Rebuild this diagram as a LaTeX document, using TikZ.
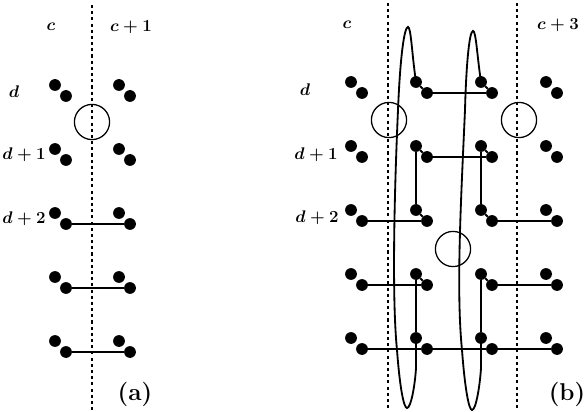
\documentclass[tikz,border=0pt]{standalone}
\usetikzlibrary{positioning}

\begin{document}
\begin{tikzpicture}[
x=0.25mm,
y=-0.25mm,
dot/.style={
circle,
fill=black,
inner sep=0pt,
minimum size=2.95mm
},
hole/.style={
circle,
draw,
line width=0.9pt,
minimum size=8.8mm
},
cut/.style={
line width=1.2pt,
dash pattern=on 2.2pt off 2.2pt
},
wire/.style={
line width=1.3pt
},
lbl/.style={
font=\boldmath\large
},
tag/.style={
font=\LARGE\bfseries
}
]
\useasboundingbox (0,0) rectangle (584,412);

% panel (a)
\draw[cut] (92,5) -- (92,410);
\foreach \r/\y in {1/85,2/149,3/213,4/277,5/341} {
\foreach \c/\x in {1/55,2/119} {
\node[dot] (aU\c\r) at (\x,\y) {};
\node[dot] (aL\c\r) at (\x+11,\y+11) {};
}
}
\node[hole] (ha) at (92,122) {};

\draw[wire] (aL13) -- (aL23);
\draw[wire] (aL14) -- (aL24);
\draw[wire] (aL15) -- (aL25);

\node[lbl] (ca) at (51,27) {$c$};
\node[lbl] (ca1) at (131,27) {$c+1$};
\node[lbl] (da) at (14,92) {$d$};
\node[lbl] (da1) at (24,155) {$d+1$};
\node[lbl] (da2) at (24,219) {$d+2$};
\node[tag] (taga) at (135,394) {(a)};

% panel (b)
\draw[cut] (388,3) -- (388,410);
\draw[cut] (517,3) -- (517,410);
\foreach \r/\y in {1/82,2/146,3/210,4/274,5/338} {
\foreach \c/\x in {1/351,2/416,3/481,4/546} {
\node[dot] (bU\c\r) at (\x,\y) {};
\node[dot] (bL\c\r) at (\x+11,\y+11) {};
}
}
\node[hole] (hb1) at (389,120) {};
\node[hole] (hb2) at (519,120) {};
\node[hole] (hb3) at (453,249) {};

% row d
\draw[wire] (bU21) -- (bL21) -- (bL31) -- (bU31);
% row d+1
\draw[wire] (bU22) -- (bL22) -- (bL32) -- (bU32);
\draw[wire] (bU22) -- (bU23);
\draw[wire] (bU32) -- (bU33);
% row d+2
\draw[wire] (bL13) -- (bL23) -- (bU23);
\draw[wire] (bU33) -- (bL33) -- (bL43);
% row 4
\draw[wire] (bL14) -- (bL24) -- (bU24);
\draw[wire] (bU34) -- (bL34) -- (bL44);
\draw[wire] (bU24) -- (bU25);
\draw[wire] (bU34) -- (bU35);
% row 5
\draw[wire] (bL15) -- (bL25) -- (bL35) -- (bL45);

% loops
\draw[wire] (bU21.center) .. controls (412,55) and (411,27) .. (408,27)
.. controls (404,27) and (400,60) .. (398,110)
.. controls (394,200) and (392,300) .. (397,350)
.. controls (400,390) and (404,408) .. (407,408)
.. controls (411,408) and (415,385) .. (416,368) -- (bU25.center);
\draw[wire] (bU31.center) .. controls (477,55) and (476,31) .. (473,31)
.. controls (469,31) and (466,70) .. (465,110)
.. controls (461,200) and (456,290) .. (462,350)
.. controls (465,390) and (469,410) .. (472,410)
.. controls (476,410) and (480,385) .. (481,368) -- (bU35.center);

\node[lbl] (cb) at (347,25) {$c$};
\node[lbl] (cb3) at (558,25) {$c+3$};
\node[lbl] (db) at (305,90) {$d$};
\node[lbl] (db1) at (316,155) {$d+1$};
\node[lbl] (db2) at (317,218) {$d+2$};
\node[tag] (tagb) at (567,394) {(b)};

\end{tikzpicture}
\end{document}
